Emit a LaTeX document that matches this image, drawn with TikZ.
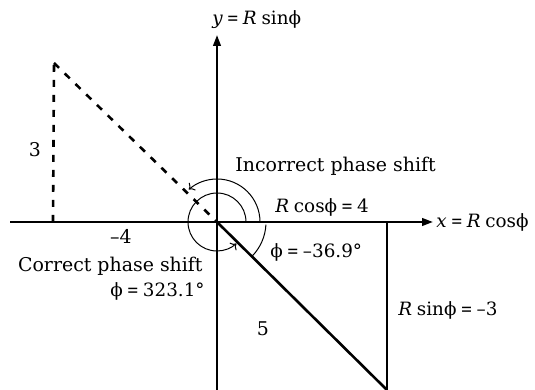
\documentclass[tikz,border=0pt]{standalone}
\usepackage{fontspec}
\setmainfont{DejaVu Serif}
\usetikzlibrary{arrows.meta}
\newcommand{\mygap}{\hspace{0.26em}}
\newcommand{\myeq}{\hspace{0.22em}\scalebox{0.78}[1]{=}\hspace{0.22em}}
\begin{document}
\begin{tikzpicture}[x=0.5bp,y=0.5bp,
  axis/.style={line width=1.1bp,-{Triangle[length=5.5bp,width=3.8bp]}},
  thickline/.style={line width=1.3bp},
  dashline/.style={line width=1.3bp,dash pattern=on 3.5bp off 4bp},
  arcline/.style={line width=0.5bp},
  arcarrow/.style={arcline,-{To[length=2.5bp,width=5bp]}},
  lbl/.style={inner sep=0pt,font=\fontsize{9.5}{11}\selectfont},
  eqlbl/.style={inner sep=0pt,font=\fontsize{9.2}{11}\selectfont}]
\useasboundingbox (0,0) rectangle (535,390);
% points
\coordinate (O) at (217,168);
\coordinate (XL) at (10,168);
\coordinate (XR) at (433,168);
\coordinate (YB) at (217,0);
\coordinate (YT) at (217,355);
\coordinate (F) at (53,168);
\coordinate (P) at (54,327);
\coordinate (V) at (387,168);
\coordinate (Q) at (387,0);
% axes
\draw[axis] (XL) -- (XR);
\draw[axis] (YB) -- (YT);
% dashed triangle
\draw[dashline] (F) -- (P);
\draw[dashline] (P) -- (O);
% solid triangle
\draw[thickline] (O) -- (Q);
\draw[thickline] (V) -- (Q);
% arcs
\draw[arcarrow] ([shift={(0:29)}]O) arc[start angle=0,end angle=312,radius=29];
\draw[arcarrow] ([shift={(0:43)}]O) arc[start angle=0,end angle=131,radius=43];
\draw[arcline] ([shift={(-3:49)}]O) arc[start angle=-3,end angle=-44,radius=49];
% labels
\node[eqlbl,anchor=base west] (ylab) at (212,365) {\textit{y}\myeq\textit{R}\mygap sinϕ};
\node[eqlbl,anchor=base west] (xlab) at (436,162) {\textit{x}\myeq\textit{R}\mygap cosϕ};
\node[lbl,anchor=base west] (inc) at (235,218) {Incorrect phase shift};
\node[eqlbl,anchor=base west] (rcos) at (275,177) {\textit{R}\mygap cosϕ\myeq 4};
\node[eqlbl,anchor=base west] (phin) at (270,132) {ϕ\myeq –36.9°};
\node[eqlbl,anchor=base west] (rsin) at (398,74) {\textit{R}\mygap sinϕ\myeq –3};
\node[lbl] (five) at (263,61) {5};
\node[lbl] (three) at (35,240) {3};
\node[lbl] (mfour) at (121,154) {–4};
\node[lbl,anchor=base east] (corr) at (203,118) {Correct phase shift};
\node[eqlbl,anchor=base east] (phip) at (205,93) {ϕ\myeq 323.1°};
\end{tikzpicture}
\end{document}
